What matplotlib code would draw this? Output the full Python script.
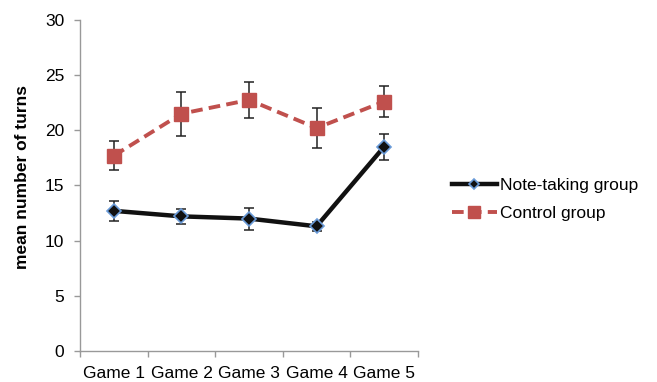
import numpy as np
import matplotlib.pyplot as plt
from matplotlib.ticker import FixedLocator, NullFormatter

plt.rcParams['font.family'] = ['Liberation Sans', 'DejaVu Sans']

games = ['Game 1', 'Game 2', 'Game 3', 'Game 4', 'Game 5']
note_mean = [12.7, 12.2, 12.0, 11.3, 18.5]
note_err = [0.9, 0.7, 1.0, 0.4, 1.2]
control_mean = [17.7, 21.5, 22.75, 20.2, 22.6]
control_err = [1.3, 2.0, 1.6, 1.8, 1.4]

fig = plt.figure(figsize=(6.57, 3.82), dpi=100)
ax = fig.add_axes([0.122, 0.081, 0.514, 0.867])

x = np.arange(1, len(games) + 1)

# Note-taking group: black solid line, diamonds
ax.errorbar(x, note_mean, yerr=note_err, fmt='none', ecolor='#222222',
            elinewidth=1.1, capsize=3.5, capthick=1.1, zorder=2)
ax.plot(x, note_mean, color='#111111', lw=3.2, marker='D', ms=7,
        markerfacecolor='#111111', markeredgecolor='#6a9bd8', mew=1.2,
        label='Note-taking group', zorder=3)

# Control group: red dashed line, squares
ax.errorbar(x, control_mean, yerr=control_err, fmt='none', ecolor='#222222',
            elinewidth=1.1, capsize=3.5, capthick=1.1, zorder=2)
ax.plot(x, control_mean, color='#c0504d', lw=2.8, ls=(0, (3, 1.6)), marker='s',
        ms=10, markerfacecolor='#c0504d', markeredgecolor='#c0504d',
        label='Control group', zorder=4)

ax.set_xlim(0.5, 5.5)
ax.set_ylim(0, 30)
ax.set_yticks(range(0, 31, 5))

# category labels centred, tick marks between categories
ax.xaxis.set_major_locator(FixedLocator(np.arange(0.5, 6.0, 1.0)))
ax.xaxis.set_major_formatter(NullFormatter())
ax.xaxis.set_minor_locator(FixedLocator(x))
ax.set_xticklabels(games, minor=True)
ax.tick_params(axis='x', which='major', length=4.5, color='#999999', width=1)
ax.tick_params(axis='x', which='minor', length=0, pad=11, labelsize=12.5)
ax.tick_params(axis='y', length=4.5, color='#999999', width=1, labelsize=12.5, pad=7)

for side in ['top', 'right']:
    ax.spines[side].set_visible(False)
for side in ['left', 'bottom']:
    ax.spines[side].set_color('#999999')
    ax.spines[side].set_linewidth(1)

ax.set_ylabel('mean number of turns', fontsize=12.5, fontweight='bold')
ax.yaxis.set_label_coords(-0.148, 0.525)

leg = fig.legend(loc='upper left', bbox_to_anchor=(0.664, 0.575), frameon=False,
                 fontsize=12.5, handlelength=2.6, handletextpad=0.15, labelspacing=0.75)
for h in leg.legend_handles:
    h.set_markersize(h.get_markersize() * 0.8)

fig.savefig('out.png', dpi=100)
